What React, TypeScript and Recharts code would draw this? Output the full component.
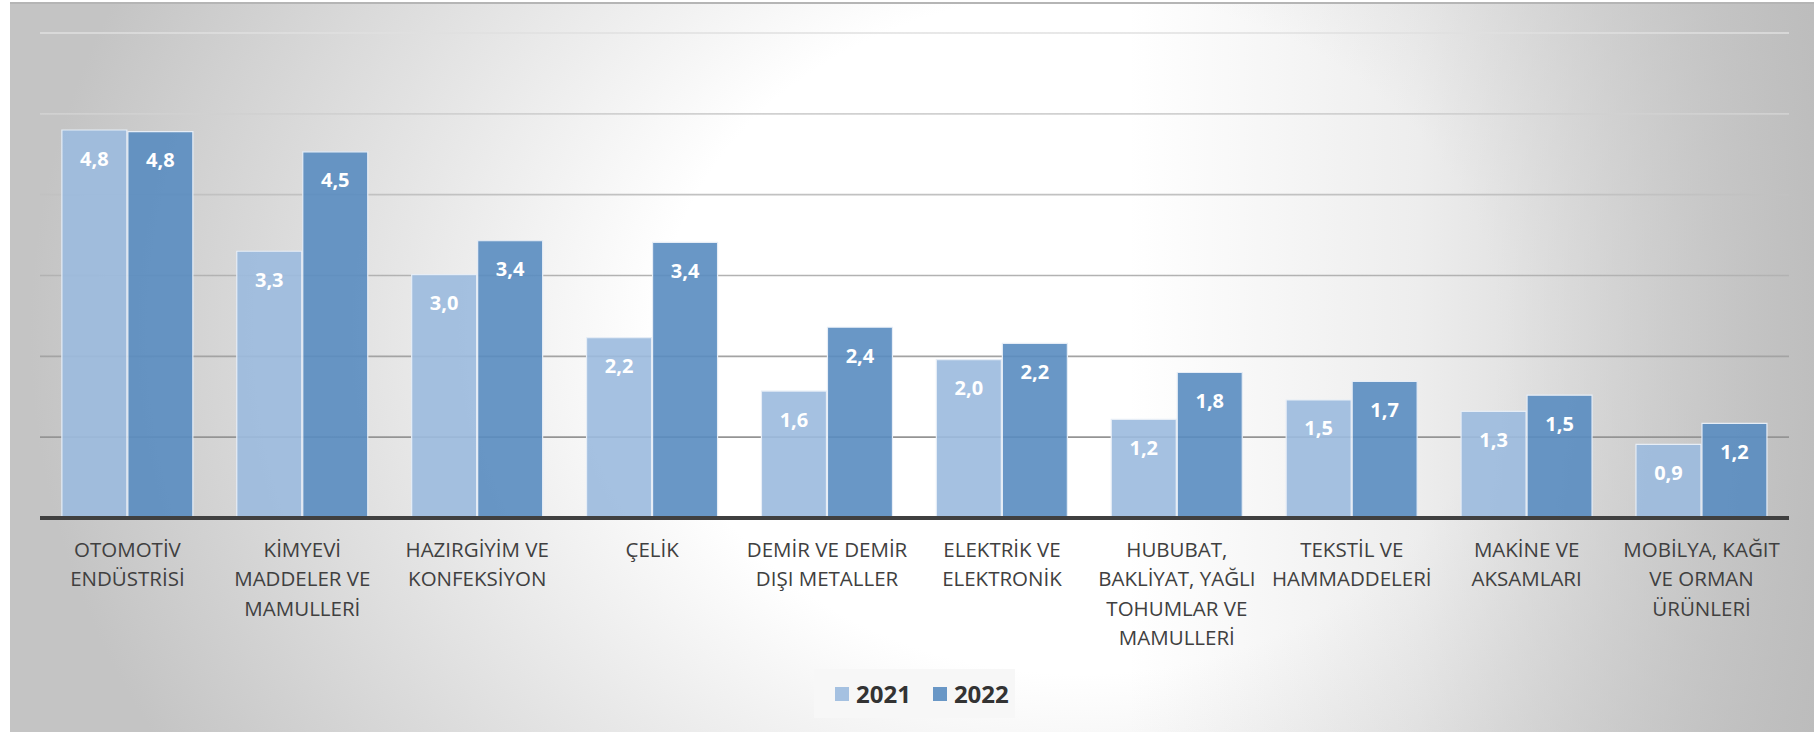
import { BarChart, Bar, XAxis, YAxis, CartesianGrid, LabelList } from "recharts";

const categories = [
  "OTOMOTİV\nENDÜSTRİSİ",
  "KİMYEVİ\nMADDELER VE\nMAMULLERİ",
  "HAZIRGİYİM VE\nKONFEKSİYON",
  "ÇELİK",
  "DEMİR VE DEMİR\nDIŞI METALLER",
  "ELEKTRİK VE\nELEKTRONİK",
  "HUBUBAT,\nBAKLİYAT, YAĞLI\nTOHUMLAR VE\nMAMULLERİ",
  "TEKSTİL VE\nHAMMADDELERİ",
  "MAKİNE VE\nAKSAMLARI",
  "MOBİLYA, KAĞIT\nVE ORMAN\nÜRÜNLERİ",
];
const values2021 = [4.8, 3.3, 3.01, 2.23, 1.57, 1.96, 1.22, 1.46, 1.32, 0.91];
const values2022 = [4.78, 4.53, 3.43, 3.41, 2.36, 2.16, 1.8, 1.69, 1.52, 1.17];
const years = ["2021", "2022"];
const yearColors = ["#9bbade", "#598cc0"];
const yTicks = [0, 1, 2, 3, 4, 5, 6];

const data = categories.map((name, i) => ({
  name,
  y2021: values2021[i],
  y2022: values2022[i],
}));

const FONT = "'Open Sans', sans-serif";

const fmt = (v: number) => v.toFixed(1).replace(".", ",");

function CategoryTick({ x, y, payload }: any) {
  const lines = String(payload.value).split("\n");
  return (
    <text x={x} y={y} textAnchor="middle" fill="#404040" fontSize={20.5} fontFamily={FONT}>
      {lines.map((l, i) => (
        <tspan key={i} x={x} dy={i === 0 ? 39 : 29.3}>
          {l}
        </tspan>
      ))}
    </text>
  );
}

function ValueLabel({ x, y, width, value }: any) {
  return (
    <text
      x={x + width / 2}
      y={y + 28}
      textAnchor="middle"
      dominantBaseline="central"
      fill="#ffffff"
      fontWeight={700}
      fontSize={20}
      fontFamily={FONT}
    >
      {fmt(value)}
    </text>
  );
}

export default function App() {
  return (
    <div style={{ position: "relative", width: 1814, height: 732, overflow: "hidden" }}>
      <style>{"body{margin:0}"}</style>
      {/* gradient backdrop */}
      <div
        style={{
          position: "absolute",
          left: 10,
          top: 2,
          width: 1804,
          height: 730,
          borderTop: "2px solid #b5b5b5",
          boxSizing: "border-box",
          background:
            "linear-gradient(to right, rgba(184,184,184,0) 62%, rgba(184,184,184,0.25) 78%, rgba(184,184,184,0.85) 100%), radial-gradient(ellipse 1050px 850px at 1070px 330px, #ffffff 0%, #ffffff 40%, #c4c4c4 100%)",
        }}
      />
      <div style={{ position: "absolute", left: 0, top: 0 }}>
        <BarChart
          width={1814}
          height={732}
          data={data}
          margin={{ top: 33, right: 25, bottom: 0, left: 40 }}
          barCategoryGap="12.5%"
          barGap={1}
        >
          <defs>
            <linearGradient id="gridGrad" gradientUnits="userSpaceOnUse" x1="0" y1="32" x2="0" y2="518">
              <stop offset="0%" stopColor="#e0e0e0" />
              <stop offset="100%" stopColor="#858585" />
            </linearGradient>
          </defs>
          <CartesianGrid vertical={false} stroke="url(#gridGrad)" strokeWidth={1.6} />
          <XAxis
            dataKey="name"
            interval={0}
            height={214}
            tickLine={false}
            tickSize={0}
            tickMargin={0}
            axisLine={{ stroke: "#404040", strokeWidth: 4 }}
            tick={<CategoryTick />}
          />
          <YAxis hide domain={[0, 6]} ticks={yTicks} />
          <Bar
            dataKey="y2021"
            name={years[0]}
            fill={yearColors[0]}
            fillOpacity={0.9}
            stroke="#e6edf6"
            strokeWidth={1.2}
            isAnimationActive={false}
          >
            <LabelList dataKey="y2021" content={<ValueLabel />} />
          </Bar>
          <Bar
            dataKey="y2022"
            name={years[1]}
            fill={yearColors[1]}
            fillOpacity={0.9}
            stroke="#e6edf6"
            strokeWidth={1.2}
            isAnimationActive={false}
          >
            <LabelList dataKey="y2022" content={<ValueLabel />} />
          </Bar>
        </BarChart>
      </div>
      {/* legend */}
      <div
        style={{
          position: "absolute",
          left: 814,
          top: 669,
          width: 201,
          height: 49,
          background: "#f7f7f7",
          display: "flex",
          alignItems: "center",
          paddingLeft: 21,
          boxSizing: "border-box",
          fontFamily: FONT,
          fontWeight: 700,
          fontSize: 24,
          color: "#333333",
        }}
      >
        {years.map((yr, i) => (
          <div key={yr} style={{ display: "flex", alignItems: "center", marginRight: 22 }}>
            <span
              style={{
                display: "inline-block",
                width: 14,
                height: 14,
                background: yearColors[i],
                opacity: 0.9,
                marginRight: 7,
              }}
            />
            <span style={{ lineHeight: "24px" }}>{yr}</span>
          </div>
        ))}
      </div>
    </div>
  );
}
